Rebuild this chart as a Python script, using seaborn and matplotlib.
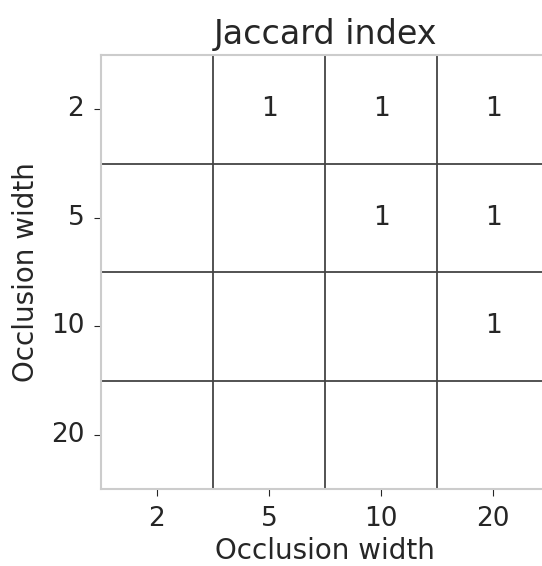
import numpy as np
import pandas as pd
import seaborn as sns
import matplotlib
matplotlib.use("Agg")
import matplotlib.pyplot as plt
from matplotlib.colors import ListedColormap

widths = [2, 5, 10, 20]
values = [
    [np.nan, 1, 1, 1],
    [np.nan, np.nan, 1, 1],
    [np.nan, np.nan, np.nan, 1],
    [np.nan, np.nan, np.nan, np.nan],
]
df = pd.DataFrame(values, index=widths, columns=widths)

fig = plt.figure(figsize=(5.42, 5.66), dpi=100)
ax = fig.add_axes([101/542, 1-489/566, 448/542, 434/566])
sns.heatmap(df, ax=ax, cmap=ListedColormap(["white"]), cbar=False,
            annot=True, fmt="g", annot_kws={"fontsize": 19, "color": "#262626"})
for i in range(1, len(widths)):
    ax.axvline(i, color="#444444", lw=1.3)
    ax.axhline(i, color="#444444", lw=1.3)
for s in ax.spines.values():
    s.set_visible(True)
    s.set_color("#cccccc")
    s.set_linewidth(1.5)
ax.set_title("Jaccard index", fontsize=24, color="#262626", pad=8)
ax.set_xlabel("Occlusion width", fontsize=20, color="#262626", labelpad=4)
ax.set_ylabel("Occlusion width", fontsize=20, color="#262626", labelpad=8)
ax.tick_params(labelsize=19, colors="#262626", length=5, pad=7)
ax.set_yticklabels(widths, rotation=0)
fig.savefig("out.png", dpi=100)
